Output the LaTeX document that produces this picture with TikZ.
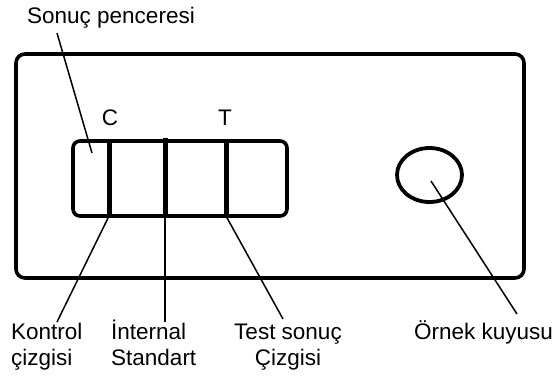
\documentclass[tikz,border=0pt]{standalone}
\usepackage{fontspec}
\usetikzlibrary{shapes.geometric}
\setmainfont{Liberation Sans}
\newcommand{\firstline}{\rule{0pt}{21pt}}
\begin{document}
\begin{tikzpicture}[x=1pt,y=-1pt,
  box/.style={draw=black,line width=3.6pt,rounded corners=7pt},
  bar/.style={draw=black,line width=5pt},
  lead/.style={draw=black,line width=1.5pt},
  lab/.style={font=\fontsize{22.5}{26}\selectfont,inner sep=0pt,align=center}]
\useasboundingbox (0,0) rectangle (555,376);
\fill[white] (0,0) rectangle (555,376);
\draw[box,rounded corners=9pt] (16,54) rectangle (524,278);
\draw[box] (73,141) rectangle (287,216);
\coordinate (c1) at (109,141); \coordinate (c2) at (109,216);
\coordinate (i1) at (165,138); \coordinate (i2) at (165,216);
\coordinate (t1) at (226,141); \coordinate (t2) at (226,216);
\draw[bar] (c1) -- (c2);
\draw[bar] (i1) -- (i2);
\draw[bar] (t1) -- (t2);
\node[draw=black,line width=3.8pt,ellipse,minimum width=65pt,minimum height=54pt,inner sep=0pt] (well) at (429.5,175) {};
\node[lab,anchor=base west] (res) at (27,23) {Sonuç penceresi};
\node[lab,anchor=base] (C) at (110,125) {C};
\node[lab,anchor=base] (T) at (225,125) {T};
\node[lab,anchor=north west,align=left] (k) at (11,318) {\firstline Kontrol\\çizgisi};
\node[lab,anchor=north west,align=left] (s) at (111,318) {\firstline İnternal\\Standart};
\node[lab,anchor=north] (ts) at (288,318) {\firstline Test sonuç\\Çizgisi};
\node[lab,anchor=base] (o) at (483.5,339) {Örnek kuyusu};
\coordinate (resA) at (57,33); \coordinate (resB) at (92,153);
\draw[lead] (resA) -- (resB);
\coordinate (kEnd) at (57,322); \coordinate (sEnd) at (165,322); \coordinate (tEnd) at (283,319); \coordinate (oEnd) at (517,314);
\draw[lead] (c2) -- (kEnd);
\draw[lead] (i2) -- (sEnd);
\draw[lead] (t2) -- (tEnd);
\coordinate (wellIn) at (431,181);
\draw[lead] (wellIn) -- (oEnd);
\end{tikzpicture}
\end{document}
